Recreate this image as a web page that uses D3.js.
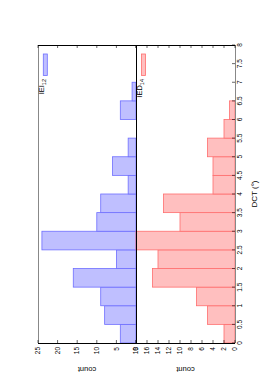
<!DOCTYPE html>
<html>
<head>
<meta charset="utf-8">
<script src="https://cdn.jsdelivr.net/npm/d3@7"></script>
<style>
  body { margin: 0; background: #fff; }
  text { font-family: "Liberation Sans", Arial, sans-serif; fill: #000; }
</style>
</head>
<body>
<svg id="chart" width="273" height="389"></svg>
<script>
// histogram bins (DCT, degrees) and counts
const binStarts = [0, 0.5, 1, 1.5, 2, 2.5, 3, 3.5, 4, 4.5, 5, 5.5, 6, 6.5];
const binWidth = 0.5;
const ieiCounts = [4, 8, 9, 16, 5, 24, 10, 9, 2, 6, 2, 0, 4, 1];
const iedCounts = [2, 5, 7, 15, 14, 18, 10, 13, 4, 4, 5, 2, 1, 0];

const dctTicks = [0, 0.5, 1, 1.5, 2, 2.5, 3, 3.5, 4, 4.5, 5, 5.5, 6, 6.5, 7, 7.5, 8];
const ieiTicks = [0, 5, 10, 15, 20, 25];
const iedTicks = [0, 2, 4, 6, 8, 10, 12, 14, 16, 18];

const svg = d3.select('#chart');

const top_y = 45, bot_y = 343;
const left_x = 38, mid_x = 136, right_x = 235;
const tickLen = 3;

const yDct = d3.scaleLinear().domain([0, 8]).range([bot_y, top_y]);
const xIei = d3.scaleLinear().domain([0, 25]).range([mid_x, left_x]);
const xIed = d3.scaleLinear().domain([0, 18]).range([right_x, mid_x]);

const blueFill = "rgb(191,191,255)", blueStroke = "rgb(110,110,255)";
const redFill = "rgb(255,191,191)", redStroke = "rgb(255,110,110)";

function bars(cls, counts, x, fill, stroke) {
    const data = binStarts.map((b, i) => ({ b: b, c: counts[i] })).filter(d => d.c > 0);
    svg.append('g').attr('class', cls)
        .selectAll('rect').data(data)
        .join('rect')
        .attr('x', d => Math.min(x(d.c), x(0)))
        .attr('width', d => Math.abs(x(0) - x(d.c)))
        .attr('y', d => yDct(d.b + binWidth))
        .attr('height', d => yDct(d.b) - yDct(d.b + binWidth))
        .attr('fill', fill)
        .attr('stroke', stroke)
        .attr('stroke-width', 0.8);
}
bars('iei', ieiCounts, xIei, blueFill, blueStroke);
bars('ied', iedCounts, xIed, redFill, redStroke);

// frame
const frame = svg.append('g').attr('class', 'frame').attr('shape-rendering', 'crispEdges');
frame.append('line').attr('x1', left_x).attr('x2', left_x).attr('y1', top_y).attr('y2', bot_y)
    .attr('stroke', '#888').attr('stroke-width', 1);
frame.append('line').attr('x1', right_x).attr('x2', right_x).attr('y1', top_y).attr('y2', bot_y)
    .attr('stroke', '#888').attr('stroke-width', 1);
frame.append('line').attr('x1', mid_x).attr('x2', mid_x).attr('y1', top_y).attr('y2', bot_y)
    .attr('stroke', '#000').attr('stroke-width', 1);
frame.append('line').attr('x1', left_x).attr('x2', right_x).attr('y1', top_y).attr('y2', top_y)
    .attr('stroke', '#000').attr('stroke-width', 1);
frame.append('line').attr('x1', left_x).attr('x2', right_x).attr('y1', bot_y).attr('y2', bot_y)
    .attr('stroke', '#000').attr('stroke-width', 1);

// count ticks (top + bottom, pointing inward) and labels below
function countAxis(cls, ticks, x) {
    const g = svg.append('g').attr('class', cls);
    g.selectAll('.tk-b').data(ticks).join('line').attr('class', 'tk-b')
        .attr('x1', d => x(d)).attr('x2', d => x(d))
        .attr('y1', bot_y).attr('y2', bot_y - tickLen)
        .attr('stroke', '#000').attr('stroke-width', 0.6);
    g.selectAll('.tk-t').data(ticks).join('line').attr('class', 'tk-t')
        .attr('x1', d => x(d)).attr('x2', d => x(d))
        .attr('y1', top_y).attr('y2', top_y + tickLen)
        .attr('stroke', '#000').attr('stroke-width', 0.6);
    g.selectAll('text').data(ticks).join('text')
        .attr('transform', d => `translate(${x(d)},${bot_y + 4}) rotate(-90)`)
        .attr('text-anchor', 'end')
        .attr('dy', '0.35em')
        .attr('font-size', 6.5)
        .text(d => d);
}
countAxis('iei-axis', ieiTicks, xIei);
countAxis('ied-axis', iedTicks, xIed);

// DCT ticks on the right edge
const dct = svg.append('g').attr('class', 'dct-axis');
dct.selectAll('line').data(dctTicks).join('line')
    .attr('x1', right_x).attr('x2', right_x - tickLen)
    .attr('y1', d => yDct(d)).attr('y2', d => yDct(d))
    .attr('stroke', '#000').attr('stroke-width', 0.6);
dct.selectAll('text').data(dctTicks).join('text')
    .attr('transform', d => `translate(${right_x + 7},${yDct(d)}) rotate(-90)`)
    .attr('text-anchor', 'middle')
    .attr('font-size', 6.5)
    .text(d => d);

// axis titles
svg.append('text')
    .attr('transform', `translate(257,${(top_y + bot_y) / 2}) rotate(-90)`)
    .attr('text-anchor', 'middle')
    .attr('font-size', 8)
    .text('DCT (°)');
[[xIei, 12.5], [xIed, 9]].forEach(([x, v]) => {
    svg.append('text')
        .attr('transform', `translate(${x(v)},367) rotate(180)`)
        .attr('text-anchor', 'middle')
        .attr('font-size', 7.5)
        .text('count');
});

// legends
function legend(px, name, sub, fill, stroke) {
    const g = svg.append('g').attr('class', 'legend');
    g.append('rect').attr('x', px).attr('y', 54).attr('width', 4).attr('height', 21.5)
        .attr('fill', fill).attr('stroke', stroke).attr('stroke-width', 0.8);
    const t = g.append('text')
        .attr('transform', `translate(${px + 0.8},79) rotate(-90)`)
        .attr('text-anchor', 'end')
        .attr('font-size', 7.5);
    t.append('tspan').text(name);
    t.append('tspan').attr('font-size', 5.5).attr('dy', 2).text(sub);
}
legend(43.3, 'IEI', '12', blueFill, blueStroke);
legend(141.5, 'IED', '14', redFill, redStroke);
</script>
</body>
</html>
